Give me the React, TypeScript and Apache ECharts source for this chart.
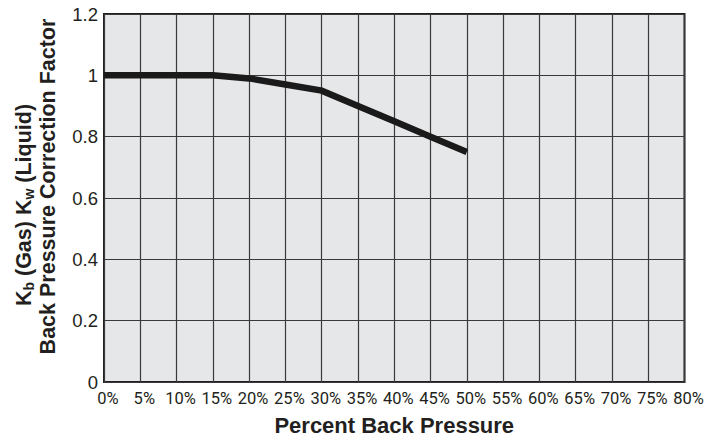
import React, { useEffect, useRef } from "react";
import * as echarts from "echarts";

const backPressurePct = [0, 5, 10, 15, 20, 25, 30, 35, 40, 45, 50];
const correctionFactor = [1, 1, 1, 1, 0.99, 0.97, 0.95, 0.9, 0.85, 0.8, 0.75];
const xAxisTitle = "Percent Back Pressure";
const yAxisTitleLine1 = "{m|K}{s|b}{m| (Gas) K}{s|w}{m| (Liquid)}";
const yAxisTitleLine2 = "Back Pressure Correction Factor";

export default function App() {
  const ref = useRef<HTMLDivElement>(null);
  useEffect(() => {
    if (!ref.current) return;
    const chart = echarts.init(ref.current, null, { renderer: "svg" });
    const ink = "#231f20";
    const boldFont = "'Liberation Sans', Arial, Helvetica, sans-serif";
    chart.setOption({
      animation: false,
      backgroundColor: "#ffffff",
      grid: {
        left: 104,
        right: 29.5,
        top: 14,
        bottom: 52,
        show: true,
        backgroundColor: "#e6e7e8",
        borderColor: ink,
        borderWidth: 2,
        z: 0,
      },
      xAxis: {
        type: "value",
        min: 0,
        max: 80,
        interval: 5,
        name: xAxisTitle,
        nameLocation: "middle",
        nameGap: 32,
        nameTextStyle: {
          fontFamily: boldFont,
          fontWeight: "bold",
          fontSize: 22,
          color: ink,
        },
        axisLine: { show: false },
        axisTick: { show: false },
        axisLabel: {
          formatter: (v: number) => v + "%",
          fontFamily: "Roboto, sans-serif",
          fontSize: 16.5,
          color: ink,
          margin: 8,
          padding: [0, 0, 0, 8],
        },
        splitLine: { show: true, lineStyle: { color: "#3a3a3a", width: 1.2 } },
      },
      yAxis: {
        type: "value",
        min: 0,
        max: 1.2,
        interval: 0.2,
        axisLine: { show: false },
        axisTick: { show: false },
        axisLabel: {
          fontFamily: "'Liberation Sans', Arial, sans-serif",
          fontSize: 18.5,
          color: ink,
          margin: 6,
          padding: [3, 0, 0, 0],
        },
        splitLine: { show: true, lineStyle: { color: "#3a3a3a", width: 1.2 } },
      },
      graphic: [
        {
          type: "text",
          x: 24,
          y: 205,
          rotation: Math.PI / 2,
          style: {
            text: yAxisTitleLine1,
            textAlign: "center",
            textVerticalAlign: "middle",
            fill: ink,
            rich: {
              m: {
                fontFamily: boldFont,
                fontWeight: "bold",
                fontSize: 21.5,
                lineHeight: 24,
                fill: ink,
                color: ink,
              },
              s: {
                fontFamily: boldFont,
                fontWeight: "bold",
                fontSize: 14,
                lineHeight: 14,
                verticalAlign: "bottom",
                fill: ink,
                color: ink,
              },
            },
          },
        },
        {
          type: "text",
          x: 48,
          y: 186.5,
          rotation: Math.PI / 2,
          style: {
            text: yAxisTitleLine2,
            textAlign: "center",
            textVerticalAlign: "middle",
            fill: ink,
            font: "bold 21.5px " + boldFont,
          },
        },
      ],
      series: [
        {
          type: "line",
          data: backPressurePct.map((x, i) => [x, correctionFactor[i]]),
          showSymbol: false,
          symbol: "none",
          lineStyle: { color: "#1a1a1a", width: 6.5, cap: "butt", join: "miter" },
          z: 5,
        },
      ],
    });
    return () => chart.dispose();
  }, []);
  return (
    <div
      ref={ref}
      style={{ position: "fixed", left: 0, top: 0, width: 714, height: 441 }}
    />
  );
}
